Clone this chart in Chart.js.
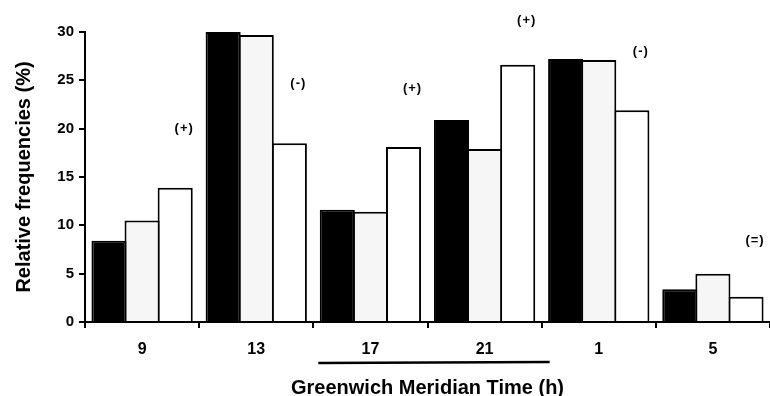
<!DOCTYPE html>
<html><head><meta charset="utf-8">
<script src="https://cdn.jsdelivr.net/npm/chart.js@4"></script>
<style>html,body{margin:0;padding:0;background:#fff}#wrap{width:770px;height:396px}</style>
</head><body><div id="wrap"><canvas id="c" width="770" height="396"></canvas></div>
<script>
const categories = ['9','13','17','21','1','5'];
const seriesBlack = [8.4, 30.0, 11.6, 20.9, 27.2, 3.4];
const seriesDotted = [10.5, 29.7, 11.4, 17.9, 27.1, 5.0];
const seriesWhite = [13.9, 18.5, 18.1, 26.6, 21.9, 2.6];
const yTicks = [0, 5, 10, 15, 20, 25, 30];
const signLabels = ['(+)', '(-)', '(+)', '(+)', '(-)', '(=)'];
const signValues = [20.0, 24.7, 24.2, 31.2, 28.0, 8.4];
const xTitle = 'Greenwich Meridian Time (h)';
const yTitle = 'Relative frequencies (%)';

const FONT = '"Liberation Sans", Arial, Helvetica, sans-serif';

const annot = {
  id: 'annot',
  afterDraw(chart) {
    const ctx = chart.ctx, x = chart.scales.x, y = chart.scales.y;
    const meta = chart.getDatasetMeta(2);
    ctx.save();
    ctx.fillStyle = '#000';
    ctx.font = 'bold 13px ' + FONT;
    ctx.textAlign = 'center';
    ctx.textBaseline = 'middle';
    try { ctx.letterSpacing = '1px'; } catch (e) {}
    signLabels.forEach((t, i) => {
      ctx.fillText(t, meta.data[i].x + 9, y.getPixelForValue(signValues[i]));
    });
    const w = x.getPixelForValue(1) - x.getPixelForValue(0);
    const x0 = x.getPixelForValue(2) - w / 2 + 5;
    const x1 = x.getPixelForValue(3) + w / 2 + 8;
    ctx.strokeStyle = '#000';
    ctx.lineWidth = 2.5;
    ctx.beginPath();
    ctx.moveTo(x0, x.top + 41);
    ctx.lineTo(x1, x.top + 40);
    ctx.stroke();
    ctx.restore();
  }
};

const common = { borderColor: '#000', borderWidth: 2, categoryPercentage: 0.87, barPercentage: 1.06 };

new Chart(document.getElementById('c'), {
  type: 'bar',
  data: {
    labels: categories,
    datasets: [
      Object.assign({ label: 'A', data: seriesBlack, backgroundColor: '#000' }, common),
      Object.assign({ label: 'B', data: seriesDotted, backgroundColor: '#f6f6f6' }, common),
      Object.assign({ label: 'C', data: seriesWhite, backgroundColor: '#fff' }, common)
    ]
  },
  options: {
    responsive: false,
    devicePixelRatio: 1,
    animation: false,
    layout: { padding: { top: 32, left: 0, right: 0, bottom: 0 } },
    plugins: { legend: { display: false }, tooltip: { enabled: false } },
    scales: {
      x: {
        offset: true,
        grid: { offset: true, drawOnChartArea: false, drawTicks: true, tickLength: 6, color: '#000', lineWidth: 2 },
        border: { display: true, color: '#000', width: 2 },
        ticks: { color: '#000', font: { family: FONT, size: 16, weight: 'bold' }, padding: 12 },
        title: { display: true, text: xTitle, color: '#000', font: { family: FONT, size: 20, weight: 'bold', lineHeight: 0.9 }, padding: { top: 0, bottom: -1 } },
        afterFit(s) { s.height = 74; }
      },
      y: {
        min: 0, max: 30,
        afterBuildTicks(s) { s.ticks = yTicks.map(v => ({ value: v })); },
        grid: { drawOnChartArea: false, drawTicks: true, tickLength: 6, color: '#000', lineWidth: 2 },
        border: { display: true, color: '#000', width: 2 },
        ticks: { color: '#000', font: { family: FONT, size: 15, weight: 'bold' }, padding: 5 },
        title: { display: true, text: yTitle, color: '#000', font: { family: FONT, size: 20, weight: 'bold', lineHeight: 1 }, padding: { top: 14, bottom: 0 } },
        afterFit(s) { s.width = 85; }
      }
    }
  },
  plugins: [annot]
});
</script>
</body></html>
